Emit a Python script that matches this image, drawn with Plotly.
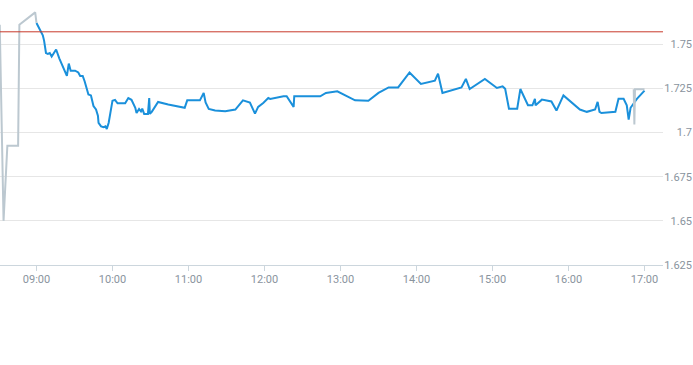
import plotly.graph_objects as go

DAY = "2024-01-02 "

# Main session (blue)
main_times = ["09:00:00", "09:02:00", "09:05:00", "09:06:00", "09:07:30", "09:09:00", "09:10:30", "09:12:00",
              "09:14:00", "09:15:30", "09:18:00", "09:20:30", "09:23:00", "09:24:00", "09:25:30", "09:27:00",
              "09:30:30", "09:33:00", "09:34:30", "09:36:30", "09:38:00", "09:40:00", "09:41:00", "09:43:00",
              "09:45:00", "09:47:00", "09:48:30", "09:49:00", "09:51:00", "09:53:00", "09:54:30", "09:55:30",
              "09:57:00", "10:00:00", "10:02:00", "10:04:00", "10:10:00", "10:12:30", "10:15:00", "10:18:00",
              "10:19:00", "10:21:00", "10:22:30", "10:23:30", "10:25:00", "10:28:00", "10:29:00", "10:29:30",
              "10:31:00", "10:36:00", "10:44:00", "10:57:00", "10:59:00", "11:09:00", "11:12:00", "11:13:30",
              "11:16:00", "11:21:00", "11:29:00", "11:37:00", "11:43:00", "11:48:30", "11:52:30", "11:55:00",
              "11:59:00", "12:03:00", "12:04:30", "12:15:00", "12:17:30", "12:23:00", "12:23:30", "12:44:00",
              "12:48:30", "12:57:30", "13:05:00", "13:11:30", "13:22:00", "13:30:00", "13:38:00", "13:45:30",
              "13:54:30", "14:03:30", "14:14:30", "14:17:00", "14:20:30", "14:35:30", "14:39:00", "14:42:00",
              "14:54:00", "15:03:30", "15:08:00", "15:10:00", "15:13:00", "15:19:30", "15:22:00", "15:28:00",
              "15:31:30", "15:33:30", "15:34:00", "15:39:00", "15:46:30", "15:50:30", "15:56:00", "16:09:00",
              "16:14:30", "16:21:00", "16:23:00", "16:24:30", "16:26:00", "16:37:00", "16:39:30", "16:43:30",
              "16:46:00", "16:47:30", "16:49:00", "16:51:30", "16:54:00", "17:00:00"]
main_values = [1.762, 1.759, 1.755, 1.752, 1.745, 1.7445, 1.745, 1.743,
               1.745, 1.747, 1.742, 1.7375, 1.733, 1.732, 1.739, 1.735,
               1.735, 1.734, 1.732, 1.732, 1.729, 1.724, 1.7215, 1.721,
               1.715, 1.713, 1.7095, 1.7055, 1.7035, 1.703, 1.7035, 1.702,
               1.7055, 1.718, 1.7185, 1.7165, 1.7165, 1.7195, 1.7185, 1.714,
               1.711, 1.7133, 1.712, 1.7135, 1.7105, 1.7105, 1.7195, 1.7105,
               1.7117, 1.7173, 1.7158, 1.714, 1.7182, 1.7182, 1.7224, 1.717,
               1.7133, 1.7125, 1.712, 1.713, 1.7182, 1.717, 1.7107, 1.7145,
               1.7167, 1.7195, 1.719, 1.7205, 1.7205, 1.7145, 1.7205, 1.7205,
               1.7224, 1.7233, 1.7205, 1.7182, 1.718, 1.7224, 1.7255, 1.7255,
               1.734, 1.7275, 1.7293, 1.7333, 1.7224, 1.7255, 1.7303, 1.7246,
               1.7303, 1.7252, 1.7261, 1.7248, 1.7135, 1.7135, 1.7246, 1.7154,
               1.7154, 1.7191, 1.7154, 1.7186, 1.7176, 1.7124, 1.721, 1.713,
               1.7117, 1.713, 1.7173, 1.7117, 1.711, 1.7117, 1.7191, 1.7191,
               1.7154, 1.7073, 1.714, 1.7167, 1.719, 1.7237]

# Pre-market (grey)
pre_times = ["08:31:00", "08:34:00", "08:37:00", "08:45:30", "08:46:30", "08:59:00", "09:00:00"]
pre_values = [1.761, 1.65, 1.6925, 1.6925, 1.761, 1.768, 1.762]

# Closing auction (grey)
post_times = ["16:51:30", "16:52:00", "16:52:30", "17:00:00"]
post_values = [1.7245, 1.7045, 1.7245, 1.7245]

previous_close = 1.757

y_tickvals = [1.625, 1.65, 1.675, 1.7, 1.725, 1.75]
y_ticktext = ["1.625", "1.65", "1.675", "1.7", "1.725", "1.75"]
y_range = [1.62104, 1.775]

x_start = DAY + "08:31:12"
x_end = DAY + "17:14:36"

BLUE = "#1a90db"
GREY = "#bcc8d0"
TICK = "#8a949e"

fig = go.Figure()
fig.add_trace(go.Scatter(x=[DAY + t for t in main_times], y=main_values, mode="lines",
                         line=dict(color=BLUE, width=2), hoverinfo="skip"))
fig.add_trace(go.Scatter(x=[DAY + t for t in pre_times], y=pre_values, mode="lines",
                         line=dict(color=GREY, width=2), hoverinfo="skip"))
fig.add_trace(go.Scatter(x=[DAY + t for t in post_times], y=post_values, mode="lines",
                         line=dict(color=GREY, width=2), hoverinfo="skip"))

fig.add_shape(type="line", xref="x domain", x0=0, x1=1, yref="y", y0=previous_close, y1=previous_close,
              line=dict(color="#c8392b", width=1))

fig.update_layout(
    width=693, height=365,
    margin=dict(l=0, r=0, t=0, b=0),
    paper_bgcolor="white", plot_bgcolor="white",
    showlegend=False,
    font=dict(family="Roboto, Liberation Sans, sans-serif", size=11, color=TICK),
    xaxis=dict(
        type="date", range=[x_start, x_end], domain=[0, 0.9567],
        anchor="free", position=0.27397,
        tickformat="%H:%M", dtick=3600000, tick0=DAY + "09:00:00",
        showgrid=False, showline=True, linecolor="#ccd6dd", linewidth=1,
        ticks="outside", ticklen=5, tickcolor="#ccd6dd",
        ticklabelstandoff=-1,
        tickfont=dict(size=11, color=TICK), zeroline=False, automargin=False,
    ),
    yaxis=dict(
        side="right", anchor="free", position=1.0, range=y_range,
        domain=[0.2548, 1],
        tickvals=y_tickvals, ticktext=y_ticktext,
        ticklabelposition="inside",
        showgrid=True, gridcolor="#e6e6e6", gridwidth=1,
        zeroline=False, showline=False, ticks="",
        ticklabelstandoff=-2,
        tickfont=dict(size=11, color=TICK), automargin=False,
    ),
)

fig.write_html("out.html", config={"displayModeBar": False},
               post_script="document.body.style.margin='0';document.body.style.overflow='hidden';")
